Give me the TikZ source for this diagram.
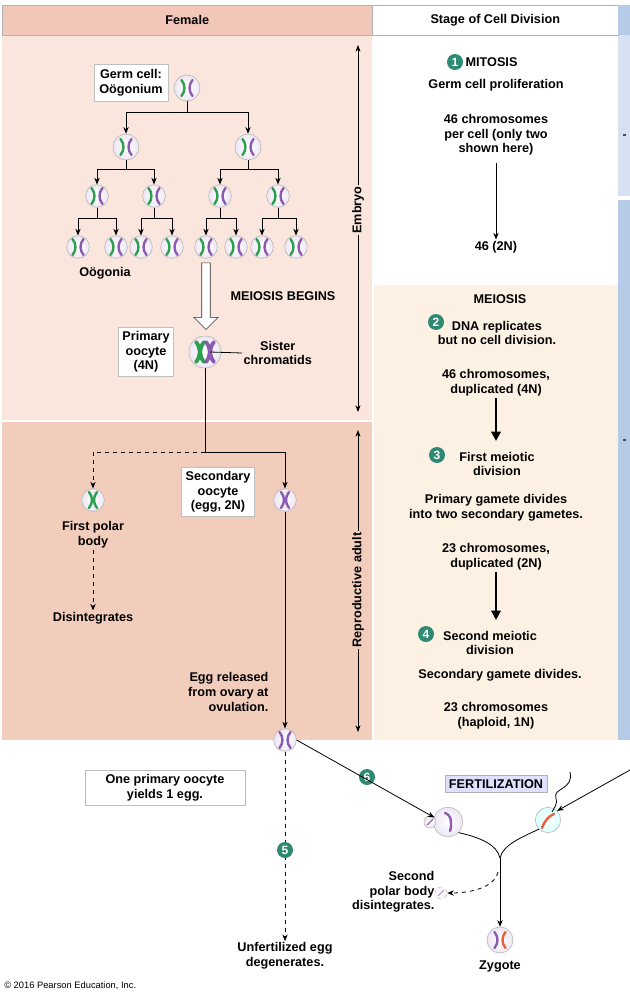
\documentclass[tikz,border=0pt]{standalone}
\usepackage{fontspec}
\setmainfont{Liberation Sans}
\usetikzlibrary{arrows.meta,shapes.arrows,decorations.pathmorphing,calc}
\definecolor{hdr}{HTML}{F2C6B8}
\definecolor{pinkA}{HTML}{FAE6DC}
\definecolor{pinkB}{HTML}{F2CDBB}
\definecolor{cream}{HTML}{FDF1E4}
\definecolor{blueA}{HTML}{D6E2F2}
\definecolor{blueB}{HTML}{B5CBE8}
\definecolor{grn}{HTML}{2E9E4F}
\definecolor{pur}{HTML}{8A5BB0}
\definecolor{teal}{HTML}{2E8A72}
\definecolor{sperm}{HTML}{E8603C}
\tikzset{
 txt/.style={font=\bfseries\fontsize{9.5}{11}\selectfont,align=center,inner sep=1pt},
 lbox/.style={txt,draw=gray!50,fill=white,inner sep=3pt},
 cell/.style={circle,draw=gray!60,inner color=white,outer color=pur!15,minimum size=19.5pt,inner sep=0pt},
 scell/.style={cell,minimum size=17pt},
 arr/.style={-{Stealth[length=5pt,width=4pt]},line width=0.6pt},
 darr/.style={arr,dashed},
 num/.style={circle,fill=teal,text=white,font=\bfseries\fontsize{9}{9}\selectfont,minimum size=12pt,inner sep=0pt},
 chg/.pic={\draw[grn,line width=1.8pt,line cap=round] (-5.5,-8) .. controls (-1.5,-3) and (-1.5,3) .. (-5.5,8);},
 chp/.pic={\draw[pur,line width=1.8pt,line cap=round] (5.5,-8) .. controls (1.5,-3) and (1.5,3) .. (5.5,8);},
 chgl/.pic={\draw[pur,line width=1.8pt,line cap=round] (-5.5,-8) .. controls (-1.5,-3) and (-1.5,3) .. (-5.5,8);},
 chx/.pic={\draw[#1,line width=1.8pt,line cap=round] (-4,-8) .. controls (0,-3) and (0,3) .. (-4,8);
           \draw[#1,line width=1.8pt,line cap=round] (4,-8) .. controls (0,-3) and (0,3) .. (4,8);},
}
\begin{document}
\begin{tikzpicture}[x=0.75pt,y=-0.75pt]
\useasboundingbox (0,0) rectangle (630,992);
\fill[white] (0,0) rectangle (630,992);
% backgrounds
\fill[pinkA] (2,35) rectangle (372,420);
\fill[pinkB] (2,422) rectangle (372,740);
\fill[cream] (374,285) rectangle (618,740);
\fill[blueA] (618,35) rectangle (630,196);
\fill[blueB] (618,200) rectangle (630,740);
\node[draw=gray!60,fill=hdr,minimum width=277.5pt,minimum height=22.5pt,txt,anchor=north west] (hf) at (2,5) {Female};
\node[draw=gray!60,fill=white,minimum width=184.5pt,minimum height=22.5pt,txt,anchor=north west] (hs) at (372,5) {Stage of Cell Division};
\fill[blueB] (618,5) rectangle (630,35);
\fill[black!70] (623,134) rectangle (626,136);
\fill[black!70] (623,439) rectangle (626,441);
% time arrows
\coordinate (e1) at (358,45); \coordinate (e2) at (358,412);
\draw[{Stealth[length=5pt]}-{Stealth[length=5pt]},line width=0.6pt] (e1) -- (e2);
\node[txt,fill=pinkA,rotate=90] (emb) at (358,210) {Embryo};
\coordinate (r1) at (358,430); \coordinate (r2) at (358,732);
\draw[{Stealth[length=5pt]}-{Stealth[length=5pt]},line width=0.6pt] (r1) -- (r2);
\node[txt,fill=pinkB,rotate=90] (ra) at (358,590) {Reproductive adult};
% tree
\node[cell] (g) at (187,88) {}; \pic at (g) {chg}; \pic at (g) {chp};
\node[lbox,inner sep=4pt] (gl) at (131,83) {Germ cell:\\Oögonium};
\node[cell] (a1) at (126,147) {}; \node[cell] (a2) at (248,147) {};
\foreach \n/\x in {b1/97,b2/154,b3/220,b4/278}{\node[scell] (\n) at (\x,196) {};}
\foreach \n/\x in {c1/78,c2/116,c3/141,c4/172,c5/206,c6/236,c7/262,c8/296}{\node[scell] (\n) at (\x,247) {};}
\foreach \n in {a1,a2,b1,b2,b3,b4,c1,c2,c3,c4,c5,c6,c7,c8}{\pic at (\n) {chg}; \pic at (\n) {chp};}
\foreach \p/\c in {g/a1,g/a2}{\draw[arr] (\p.south) -- ++(0,11) -| (\c.north);}
\foreach \p/\c in {a1/b1,a1/b2,a2/b3,a2/b4}{\draw[arr] (\p.south) -- ++(0,9) -| (\c.north);}
\foreach \p/\c in {b1/c1,b1/c2,b2/c3,b2/c4,b3/c5,b3/c6,b4/c7,b4/c8}{\draw[arr] (\p.south) -- ++(0,11) -| (\c.north);}
\node[txt] (og) at (105,273) {Oögonia};
% meiosis begins
\node[single arrow,draw=black!80,fill=white,shape border rotate=270,minimum width=18pt,single arrow head extend=4pt,minimum height=50pt,inner sep=2pt] (bigar) at (206,294) {};
\node[txt] (mb) at (283,296) {MEIOSIS BEGINS};
\node[cell,minimum size=24pt] (po) at (205,352) {};
\draw[grn,line width=2.8pt,line cap=round] (196,342) .. controls (201,348) and (201,356) .. (196,362);
\draw[grn,line width=2.8pt,line cap=round] (204,342) .. controls (199,348) and (199,356) .. (204,362);
\draw[pur,line width=2.8pt,line cap=round] (206,342) .. controls (211,348) and (211,356) .. (206,362);
\draw[pur,line width=2.8pt,line cap=round] (214,342) .. controls (209,348) and (209,356) .. (214,362);
\node[lbox] (pol) at (146,352) {Primary\\oocyte\\(4N)};
\node[txt,anchor=west] (sc) at (242,353) {Sister\\chromatids};
\draw[line width=0.6pt] (210,352) -- (sc.west);
% first meiotic division
\coordinate (j) at (205,452);
\coordinate (jl) at (93,452); \coordinate (jr) at (285,452);
\node[scell] (pb) at (93,500) {}; \pic at (pb) {chx=grn};
\node[scell] (so) at (285,500) {}; \pic at (so) {chx=pur};
\draw[line width=0.6pt] (po.south) -- (j);
\draw[dashed,line width=0.6pt] (j) -- (jl);
\draw[darr] (jl) -- (pb.north);
\draw[arr] (j) -- (jr) -- (so.north);
\node[txt] (pbl) at (93,535) {First polar\\body};
\node[txt] (dis) at (93,618) {Disintegrates};
\draw[darr] (pbl.south) -- (dis.north);
\node[lbox] (sol) at (218,492) {Secondary\\oocyte\\(egg, 2N)};
\node[scell] (egg) at (285,740) {}; \pic at (egg) {chgl}; \pic at (egg) {chp};
\draw[arr] (so.south) -- (egg.north);
\node[txt,align=right,anchor=east] (rel) at (270,692) {Egg released\\from ovary at\\ovulation.};
% bottom left
\node[lbox,minimum width=120pt] (one) at (165,788) {One primary oocyte\\yields 1 egg.};
\node[txt] (ud) at (285,956) {Unfertilized egg\\degenerates.};
\draw[darr] (egg.south) -- (ud.north);
\node[num] (n5) at (285,850) {5};
\node[font=\fontsize{7}{8}\selectfont,anchor=west,inner sep=0pt] (copy) at (4,986) {© 2016 Pearson Education, Inc.};
% fertilization
\node[cell,minimum size=22pt] (fe) at (448,822) {};
\draw[pur,line width=1.8pt,line cap=round] (445,813) .. controls (452,815) and (452,825) .. (450,831);
\node[circle,draw=gray!60,inner color=white,outer color=pur!15,minimum size=9pt,inner sep=0pt] (fpb) at (430,822) {};
\draw[pur,line width=0.8pt] (427,825) -- (433,819);
\node[num] (n6) at (367,777) {6};
\draw[arr] (egg.east) -- (fpb.north east);
\node[txt,draw=gray!60,fill=blue!12,inner sep=3pt] (fert) at (496,784) {FERTILIZATION};
\node[circle,draw=gray!60,inner color=white,outer color=cyan!15,minimum size=19pt,inner sep=0pt] (sp) at (548,820) {};
\draw[sperm,line width=1.8pt,line cap=round] (542,828) .. controls (545,820) and (549,816) .. (554,814);
\coordinate (t0) at (570,772);
\draw[line width=0.6pt] (t0) .. controls (574,790) and (552,788) .. (556,798) .. controls (558,804) and (554,808) .. (552,812);
\coordinate (sa) at (630,770);
\draw[arr] (sa) -- (sp.north east);
\coordinate (m) at (500,858);
\draw[line width=0.6pt] (fe.south east) .. controls (482,838) and (497,845) .. (m);
\draw[line width=0.6pt] (sp.south west) .. controls (520,838) and (503,845) .. (m);
\node[cell] (zy) at (500,940) {}; \pic at (zy) {chgl};
\draw[sperm,line width=1.8pt,line cap=round] (505.5,932) .. controls (501.5,937) and (501.5,943) .. (505.5,948);
\draw[arr] (m) -- (zy.north);
\node[txt] (zl) at (500,966) {Zygote};
\node[circle,draw=gray!50,dashed,fill=pur!5,minimum size=9pt,inner sep=0pt] (spb) at (441,893) {};
\draw[pur!70,line width=0.7pt] (438,896) -- (444,890);
\draw[darr] (498,872) .. controls (494,888) and (470,893) .. (spb.east);
\node[txt,align=right,anchor=east] (spl) at (436,892) {Second\\polar body\\disintegrates.};
% right column
\node[num] (n1) at (455,62) {1};
\node[txt,anchor=west] (mit) at (464,62) {MITOSIS};
\node[txt] (gcp) at (496,85) {Germ cell proliferation};
\node[txt] (t46) at (496,135) {46 chromosomes\\per cell (only two\\shown here)};
\node[txt] (t2n) at (496,247) {46 (2N)};
\draw[arr] (496,163) -- (t2n.north);
\node[txt] (mei) at (500,299) {MEIOSIS};
\node[num] (n2) at (436,322) {2};
\node[txt] (dna) at (497,333) {DNA replicates\\but no cell division.};
\node[txt] (t4n) at (496,383) {46 chromosomes,\\duplicated (4N)};
\node[txt] (fmd) at (497,464) {First meiotic\\division};
\node[num] (n3) at (437,455) {3};
\draw[-{Triangle[length=7pt,width=7pt]},line width=1.6pt] (t4n.south) -- (496,441);
\node[txt] (pgd) at (496,508) {Primary gamete divides\\into two secondary gametes.};
\node[txt] (t2d) at (496,557) {23 chromosomes,\\duplicated (2N)};
\node[txt] (smd) at (490,643) {Second meiotic\\division};
\node[num] (n4) at (426,634) {4};
\draw[-{Triangle[length=7pt,width=7pt]},line width=1.6pt] (t2d.south) -- (496,620);
\node[txt] (sgd) at (500,675) {Secondary gamete divides.};
\node[txt] (t1n) at (496,716) {23 chromosomes\\(haploid, 1N)};
\end{tikzpicture}
\end{document}
